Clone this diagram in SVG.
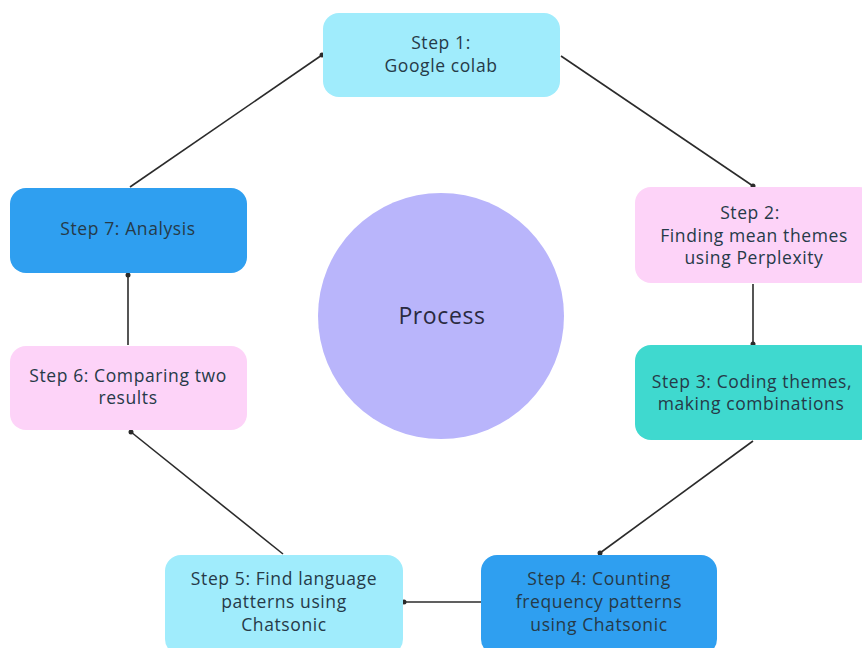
<svg xmlns="http://www.w3.org/2000/svg" width="862" height="648" viewBox="0 0 862 648">
<style>
.t{font-family:"Open Sans","Liberation Sans",sans-serif;font-size:17.5px;letter-spacing:0.6px;fill:#263a48;text-anchor:middle}
.c{stroke:#2b2b2b;stroke-width:1.6;fill:none}
.d{fill:#2b2b2b}
</style>
<rect width="862" height="648" fill="#ffffff"/>
<g id="center">
<circle cx="441" cy="316" r="123" fill="#b9b5fb"/>
<text class="t" x="442" y="324" style="font-size:23px;fill:#2a2a40">Process</text>
</g>
<g id="connectors">
<line class="c" x1="561" y1="56" x2="753" y2="186"/><circle class="d" cx="753" cy="186" r="2.5"/>
<line class="c" x1="753" y1="284" x2="753" y2="344"/><circle class="d" cx="753" cy="344" r="2.5"/>
<line class="c" x1="753" y1="441" x2="600" y2="553"/><circle class="d" cx="600" cy="553" r="2.5"/>
<line class="c" x1="481" y1="602" x2="404" y2="602"/><circle class="d" cx="404" cy="602" r="2.5"/>
<line class="c" x1="283" y1="554" x2="131" y2="432"/><circle class="d" cx="131" cy="432" r="2.5"/>
<line class="c" x1="128" y1="345" x2="128" y2="275"/><circle class="d" cx="128" cy="275" r="2.5"/>
<line class="c" x1="130" y1="187" x2="322" y2="55"/><circle class="d" cx="322" cy="55" r="2.5"/>
</g>
<g id="step1">
<rect x="323" y="13" width="237" height="84" rx="16" fill="#a0ecfc"/>
<text class="t" x="441" y="49">Step 1:</text>
<text class="t" x="441" y="72">Google colab</text>
</g>
<g id="step2">
<rect x="635" y="187" width="240" height="96" rx="16" fill="#fdd3f8"/>
<text class="t" x="750" y="219">Step 2:</text>
<text class="t" x="754" y="242">Finding mean themes</text>
<text class="t" x="754" y="264">using Perplexity</text>
</g>
<g id="step3">
<rect x="635" y="345" width="240" height="95" rx="16" fill="#3fd9cf"/>
<text class="t" x="752" y="388">Step 3: Coding themes,</text>
<text class="t" x="751" y="410">making combinations</text>
</g>
<g id="step4">
<rect x="481" y="555" width="236" height="100" rx="16" fill="#2f9ff0"/>
<text class="t" x="599" y="585">Step 4: Counting</text>
<text class="t" x="599" y="608">frequency patterns</text>
<text class="t" x="599" y="631">using Chatsonic</text>
</g>
<g id="step5">
<rect x="165" y="555" width="238" height="100" rx="16" fill="#a0ecfc"/>
<text class="t" x="284" y="585">Step 5: Find language</text>
<text class="t" x="284" y="608">patterns using</text>
<text class="t" x="284" y="631">Chatsonic</text>
</g>
<g id="step6">
<rect x="10" y="346" width="237" height="84" rx="16" fill="#fdd3f8"/>
<text class="t" x="128" y="382">Step 6: Comparing two</text>
<text class="t" x="128" y="404">results</text>
</g>
<g id="step7">
<rect x="10" y="188" width="237" height="85" rx="16" fill="#2f9ff0"/>
<text class="t" x="128" y="235">Step 7: Analysis</text>
</g>
</svg>
